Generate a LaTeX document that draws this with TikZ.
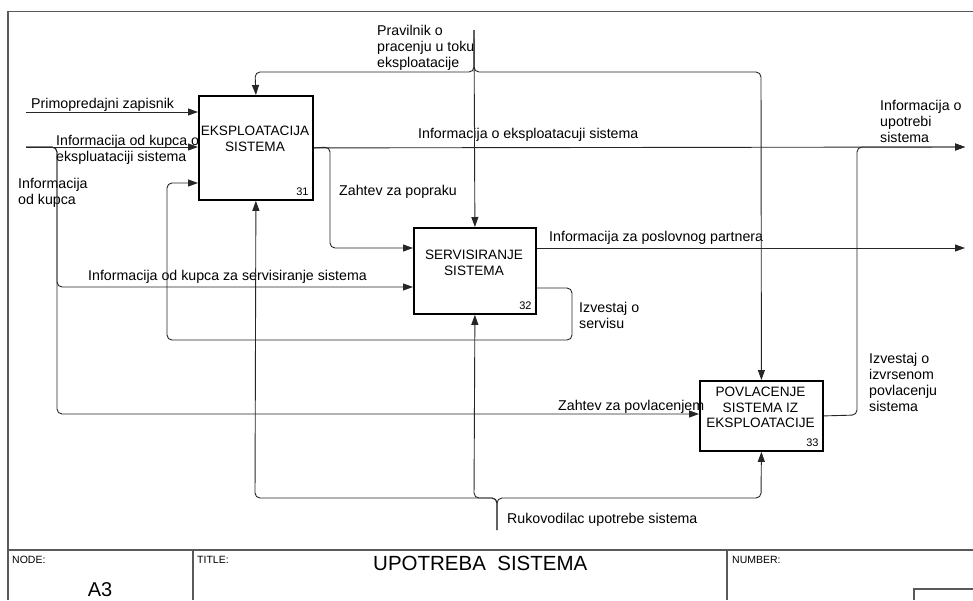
\documentclass[tikz,border=0pt]{standalone}
\usepackage{fontspec}
\setmainfont{Liberation Sans}
\usetikzlibrary{arrows.meta,calc}

\tikzset{
  frame/.style={draw=black!65, line width=1.3pt},
  box/.style={draw=black, line width=1.8pt, fill=white, rectangle, inner sep=0pt, anchor=north west},
  flow/.style={draw=black!85, line width=0.9pt, rounded corners=5pt},
  arr/.style={flow, -{Triangle[length=10pt,width=7pt]}},
  lbl/.style={font=\fontsize{14.2}{16}\selectfont, align=left, inner sep=0pt, anchor=north west},
  boxtxt/.style={font=\fontsize{13.6}{15.5}\selectfont, align=center, inner sep=0pt, anchor=north},
  num/.style={font=\fontsize{11}{12}\selectfont, inner sep=0pt, anchor=base east},
  small/.style={font=\fontsize{10.5}{11}\selectfont, inner sep=0pt, anchor=north west},
}

\begin{document}
\begin{tikzpicture}[x=1pt,y=-1pt]
\useasboundingbox (0,0) rectangle (973,600);

% drawing frame and title block
\draw[frame] (8,600) -- (8,11.5) -- (973,11.5);
\draw[frame] (8,550) -- (973,550);
\draw[frame] (193,550) -- (193,600);
\draw[frame] (727,550) -- (727,600);
\draw[frame] (914,600) -- (914,589) -- (973,589);
\node[small] (nodehdr) at (12,556) {NODE:};
\node[small] (titlehdr) at (197,556) {TITLE:};
\node[small] (numhdr) at (732,556) {NUMBER:};
\node[inner sep=0pt, anchor=north, font=\fontsize{20}{22}\selectfont] (nodeid) at (100,582) {A3};
\node[inner sep=0pt, anchor=north west, font=\fontsize{20.5}{23}\selectfont] (title) at (373,556) {UPOTREBA\ \ SISTEMA};

% arrow labels
\node[lbl] (l1) at (31,98) {Primopredajni zapisnik};
\node[lbl] (l2) at (56,135) {Informacija od kupca o\\ekspluataciji sistema};
\node[lbl] (l3) at (18,178) {Informacija\\od kupca};
\node[lbl] (l4) at (377,25) {Pravilnik o\\pracenju u toku\\eksploatacije};
\node[lbl] (l5) at (418,128) {Informacija o eksploatacuji sistema};
\node[lbl] (l6) at (339,185) {Zahtev za popraku};
\node[lbl] (l7) at (549,231) {Informacija za poslovnog partnera};
\node[lbl] (l8) at (88,270) {Informacija od kupca za servisiranje sistema};
\node[lbl] (l9) at (579,302) {Izvestaj o\\servisu};
\node[lbl] (l11) at (880,100) {Informacija o\\upotrebi\\sistema};
\node[lbl] (l12) at (869,353) {Izvestaj o\\izvrsenom\\povlacenju\\sistema};
\node[lbl] (l13) at (507,513) {Rukovodilac upotrebe sistema};

% activity boxes
\node[box, minimum width=114pt, minimum height=104pt] (b31) at (198,95) {};
\node[box, minimum width=122pt, minimum height=86pt] (b32) at (413,227) {};
\node[box, minimum width=123pt, minimum height=70pt] (b33) at (699,380) {};

% free ends of the boundary arrows
\coordinate (in1) at (26,112);
\coordinate (in2) at (26,147);
\coordinate (ctl) at (474,30);
\coordinate (out1) at (965,147);
\coordinate (out2) at (965,248);
\coordinate (mech) at (497,530);

% inputs
\draw[arr] (in1) -- (in1 -| b31.west);
\draw[arr] (in2) -- (in2 -| b31.west);
\draw[arr] (in2) -- (57,147) -- (57,287) -- (b32.west |- 0,287);
\draw[arr] (in2) -- (57,147) -- (57,414) -- (b33.west |- 0,414);

% controls
\draw[arr] (ctl) -- (b32.north);
\draw[arr] (ctl) -- (474,72) -- (255,72) -- (b31.north);
\draw[arr] (ctl) -- (474,72) -- (761,72) -- (b33.north);

% outputs
\draw[arr] (b31.east) -- (out1);
\draw[arr] (b31.east) -- (330,147) -- (330,248) -- (b32.west |- 0,248);
\draw[arr] (b32.east |- 0,248) -- (out2);
\draw[arr] (b32.east |- 0,288) -- (572,288) -- (572,340) -- (167,340) -- (167,183) -- (b31.west |- 0,183);
\draw[arr] (b33.east) -- (857,415) -- (857,147) -- (out1);

% mechanisms
\draw[arr] (mech) -- (497,498) -- (255,498) -- (b31.south);
\draw[arr] (mech) -- (497,498) -- (474,498) -- (b32.south);
\draw[arr] (mech) -- (497,498) -- (761,498) -- (b33.south);

% label that runs onto the edge of box 33
\node[lbl] (l10) at (558,400) {Zahtev za povlacenjem};

% box texts and numbers
\node[boxtxt] (t31) at (255,126) {EKSPLOATACIJA\\SISTEMA};
\node[boxtxt] (t32) at (474,250) {SERVISIRANJE\\SISTEMA};
\node[boxtxt] (t33) at (760.5,387) {POVLACENJE\\SISTEMA IZ\\EKSPLOATACIJE};
\node[num] (n31) at ($(b31.south east)+(-5,-5)$) {31};
\node[num] (n32) at ($(b32.south east)+(-5,-5)$) {32};
\node[num] (n33) at ($(b33.south east)+(-5,-5)$) {33};
\end{tikzpicture}
\end{document}
